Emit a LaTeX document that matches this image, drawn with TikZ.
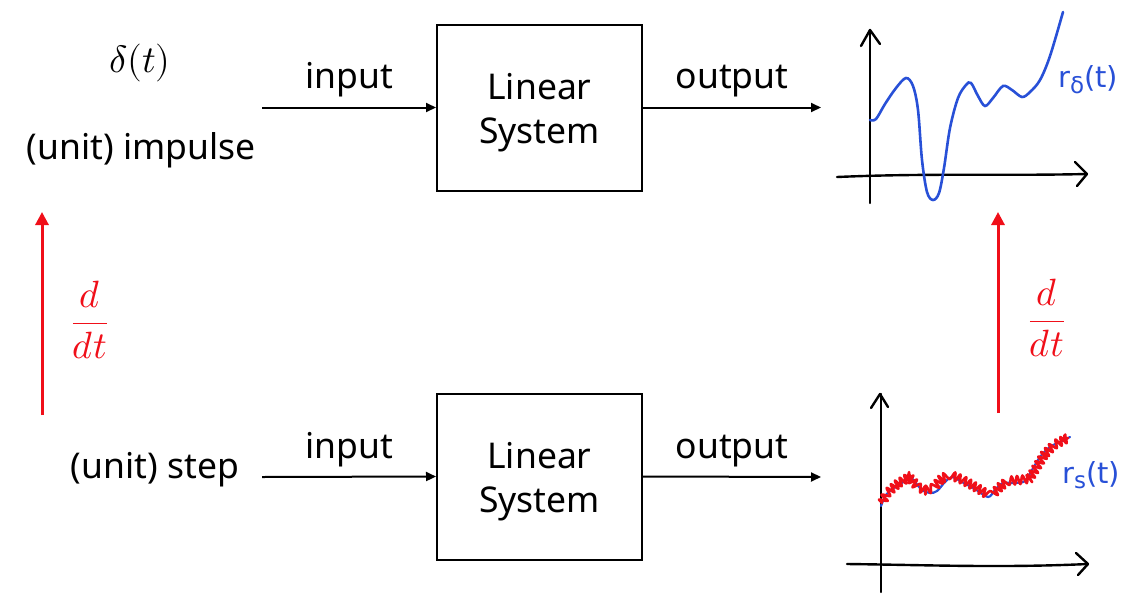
\documentclass[tikz,border=0pt]{standalone}
\usepackage{amsmath}
\usepackage{fontspec}
\usepackage{unicode-math}
\setmainfont{Noto Sans}
\setmathfont{Latin Modern Math}
\newfontfamily\handfont{DejaVu Sans}
\usetikzlibrary{arrows.meta,decorations.pathmorphing}
\definecolor{hblue}{RGB}{40,80,215}
\definecolor{hred}{RGB}{240,15,25}
\tikzset{
  txt/.style={font=\fontsize{35.5}{40}\selectfont, inner sep=0pt},
  mth/.style={font=\fontsize{38}{42}\selectfont, inner sep=0pt},
  sysbox/.style={draw, line width=2pt, minimum width=205pt, minimum height=166pt, inner sep=0pt},
  flow/.style={line width=2pt, -{Triangle[length=10pt,width=9pt]}},
  deriv/.style={draw=hred, line width=3pt, -{Triangle[length=13pt,width=13pt]}},
  axis/.style={line width=2.4pt, line cap=round, line join=round},
  curve/.style={line width=2.6pt, hblue, line cap=round},
  hand/.style={hblue, font=\handfont\fontsize{29}{30}\selectfont, inner sep=0pt}
}
\begin{document}
\begin{tikzpicture}[x=1pt,y=-1pt]
\useasboundingbox (0,0) rectangle (1140,600);
% ---------- top row ----------
\node[mth] (delta) at (140,63) {$\delta(t)$};
\node[txt] (imp) at (141,150) {(unit) impulse};
\coordinate (in1) at (262,107.5);
\node[sysbox] (sys1) at (539.5,107.5) {};
\node[txt, align=center, font=\fontsize{35.5}{44}\selectfont] (sys1t) at (539.5,113) {Linear\\System};
\coordinate (out1) at (821,107.5);
\draw[flow] (in1) -- (sys1.west) node[txt, midway, above=9pt] (lin1) {input};
\draw[flow] (sys1.east) -- (out1) node[txt, midway, above=9pt] (lout1) {output};
% ---------- bottom row ----------
\node[txt] (step) at (155,470) {(unit) step};
\coordinate (in2) at (262,477);
\node[sysbox] (sys2) at (539.5,476.5) {};
\node[txt, align=center, font=\fontsize{35.5}{44}\selectfont] (sys2t) at (539.5,482) {Linear\\System};
\coordinate (out2) at (821,477);
\draw[flow] (in2) -- (sys2.west) node[txt, midway, above=9pt] (lin2) {input};
\draw[flow] (sys2.east) -- (out2) node[txt, midway, above=9pt] (lout2) {output};
% ---------- derivative arrows ----------
\coordinate (dl0) at (42,415);
\coordinate (dl1) at (42,212);
\draw[deriv] (dl0) -- (dl1);
\node[mth, text=hred] (ddl) at (90,320) {$\dfrac{d}{dt}$};
\coordinate (dr0) at (998,413);
\coordinate (dr1) at (998,212);
\draw[deriv] (dr0) -- (dr1);
\node[mth, text=hred] (ddr) at (1047,318) {$\dfrac{d}{dt}$};
% ---------- top graph (impulse response) ----------
\draw[axis] (870,203) -- (870,30);
\draw[axis] (861,46) -- (870,30) -- (880,44);
\draw[axis] (837,177) .. controls (930,173) and (1000,176) .. (1087,174);
\draw[axis] (1075,162) -- (1087,174) -- (1077,186);
\draw[curve] plot[smooth, tension=0.55] coordinates {
 (870,120) (876,119) (885,104) (896,88) (906,78) (913,86) (918,110) (922,160)
 (927,192) (933,200) (939,193) (944,168) (950,128) (958,98) (966,85) (971,83)
 (978,96) (985,106) (993,98) (1003,86) (1012,90) (1022,97) (1030,92) (1040,80)
 (1050,56) (1063,12)};
\node[hand, anchor=west] (rd) at (1058,80) {r\raisebox{-6pt}{\fontsize{23}{24}\selectfont δ}(t)};
% ---------- bottom graph (step response) ----------
\draw[axis] (881,592) -- (881,394);
\draw[axis] (871,408) -- (880,394) -- (888,407);
\draw[axis] (847,564) .. controls (930,565) and (1000,568) .. (1088,564);
\draw[axis] (1076,553) -- (1088,564) -- (1078,575);
\draw[curve, line width=2.2pt] plot[smooth, tension=0.55] coordinates {
 (881,506) (886,495) (895,487) (905,481) (910,477) (915,482) (922,490) (930,493)
 (937,491) (945,482) (952,477) (962,482) (975,489) (988,497) (995,490) (1003,483)
 (1015,483) (1025,481) (1032,470) (1040,457) (1050,447) (1060,442) (1070,437)};
\draw[hred, line width=2.6pt, line join=round, line cap=round,
  decoration={snake, amplitude=4.2pt, segment length=5.5pt}, decorate]
  (882,503) -- (886,495) -- (895,487) -- (905,481) -- (910,478) -- (915,482)
  -- (922,490) -- (930,493) -- (937,491) -- (945,482) -- (952,478) -- (962,482)
  -- (975,489) -- (988,497) -- (995,490) -- (1003,484) -- (1015,483) -- (1025,481)
  -- (1032,470) -- (1040,457) -- (1050,447) -- (1060,442) -- (1068,438);
\node[hand, anchor=west] (rs) at (1062,475) {r\raisebox{-5pt}{\fontsize{23}{24}\selectfont s}(t)};
\end{tikzpicture}
\end{document}
